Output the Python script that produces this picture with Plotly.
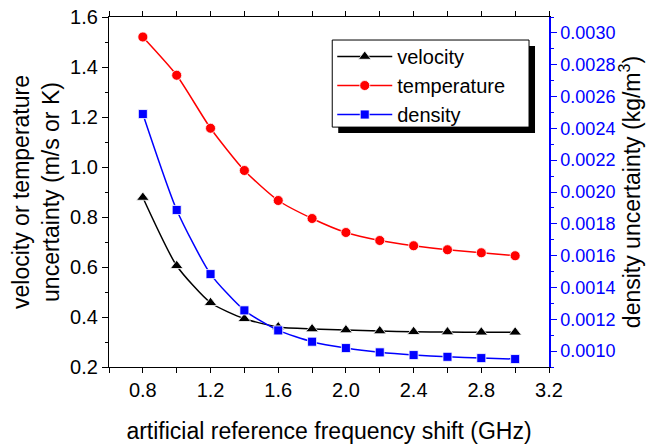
import plotly.graph_objects as go

shift_ghz = [0.8, 1.0, 1.2, 1.4, 1.6, 1.8, 2.0, 2.2, 2.4, 2.6, 2.8, 3.0]
velocity = [0.878, 0.605, 0.457, 0.393, 0.360, 0.352, 0.348, 0.344, 0.341, 0.340, 0.339, 0.339]
temperature = [1.520, 1.367, 1.155, 0.986, 0.866, 0.794, 0.738, 0.706, 0.685, 0.669, 0.657, 0.645]
density = [0.00249, 0.001887, 0.001484, 0.001256, 0.00113, 0.001059, 0.001019,
           0.000992, 0.000975, 0.000964, 0.000956, 0.000950]

FONT = "Arial, 'Liberation Sans', sans-serif"

fig = go.Figure()
fig.add_trace(go.Scatter(
    x=shift_ghz, y=velocity, name="velocity", mode="lines+markers",
    line=dict(color="black", width=1.5, shape="spline", smoothing=0.6),
    marker=dict(symbol="triangle-up", size=11, color="black", line=dict(color="white", width=0.8)),
))
fig.add_trace(go.Scatter(
    x=shift_ghz, y=temperature, name="temperature", mode="lines+markers",
    line=dict(color="red", width=1.5, shape="spline", smoothing=0.6),
    marker=dict(symbol="circle", size=10, color="red", line=dict(color="white", width=0.8)),
))
fig.add_trace(go.Scatter(
    x=shift_ghz, y=density, name="density", mode="lines+markers", yaxis="y2",
    line=dict(color="blue", width=1.5, shape="spline", smoothing=0.6),
    marker=dict(symbol="square", size=9, color="blue", line=dict(color="white", width=0.8)),
))

L, R, T, B = 108.5, 549.0, 17.0, 366.7
W, H = 653, 444

def px_x(p):
    return (p - L) / (R - L)

def px_y(p):
    return (B - p) / (B - T)

# legend frame: drop shadow, then white box with black border
fig.add_shape(type="rect", xref="paper", yref="paper",
              x0=px_x(338), x1=px_x(535), y0=px_y(133), y1=px_y(46),
              fillcolor="black", line=dict(width=0), layer="above")
fig.add_shape(type="rect", xref="paper", yref="paper",
              x0=px_x(332), x1=px_x(529), y0=px_y(127), y1=px_y(40),
              fillcolor="white", line=dict(color="black", width=1), layer="above")

fig.update_layout(
    template="none",
    width=W, height=H,
    margin=dict(l=L, r=W - R, t=T, b=H - B, pad=0),
    paper_bgcolor="white", plot_bgcolor="white",
    font=dict(family=FONT, size=20, color="black"),
    showlegend=True,
    legend=dict(
        x=px_x(332), y=px_y(37), xanchor="left", yanchor="top",
        bgcolor="rgba(0,0,0,0)", borderwidth=0,
        font=dict(family=FONT, size=20, color="black"),
        itemwidth=55, tracegroupgap=0,
    ),
    xaxis=dict(
        automargin=False,
        range=[0.6, 3.2], tick0=0.8, dtick=0.4, tickformat=".1f",
        showgrid=False, zeroline=False,
        showline=True, linecolor="black", linewidth=1.2, mirror="ticks",
        ticks="outside", ticklen=5, tickwidth=1.2, tickcolor="black",
        minor=dict(tick0=0.6, dtick=0.2, ticks="outside", ticklen=5, tickwidth=1.2, tickcolor="black"),
        tickfont=dict(size=20),
        title=dict(text="artificial reference frequency shift (GHz)", font=dict(size=23), standoff=27),
    ),
    yaxis=dict(
        automargin=False,
        range=[0.2, 1.6], tick0=0.2, dtick=0.2, tickformat=".1f",
        showgrid=False, zeroline=False,
        showline=True, linecolor="black", linewidth=1.2, mirror=False,
        ticks="outside", ticklen=6, tickwidth=1.2, tickcolor="black",
        minor=dict(dtick=0.1, ticks="outside", ticklen=3, tickwidth=1.2, tickcolor="black"),
        tickfont=dict(size=20),
        title=dict(text="velocity or temperature<br>uncertainty (m/s or K)", font=dict(size=23), standoff=4),
    ),
    yaxis2=dict(
        automargin=False,
        overlaying="y", side="right", anchor="x",
        range=[0.0009, 0.0031], tick0=0.001, dtick=0.0002, tickformat=".4f",
        showgrid=False, zeroline=False,
        showline=True, linecolor="blue", linewidth=1.5,
        ticks="outside", ticklen=6, tickwidth=1.2, tickcolor="blue",
        minor=dict(tick0=0.0009, dtick=0.0001, ticks="outside", ticklen=3, tickwidth=1.2, tickcolor="blue"),
        tickfont=dict(size=18, color="blue"),
        title=dict(text="density uncertainty (kg/m<sup>3</sup>)", font=dict(size=23, color="black"), standoff=8),
    ),
)

fig.write_html("out.html")
